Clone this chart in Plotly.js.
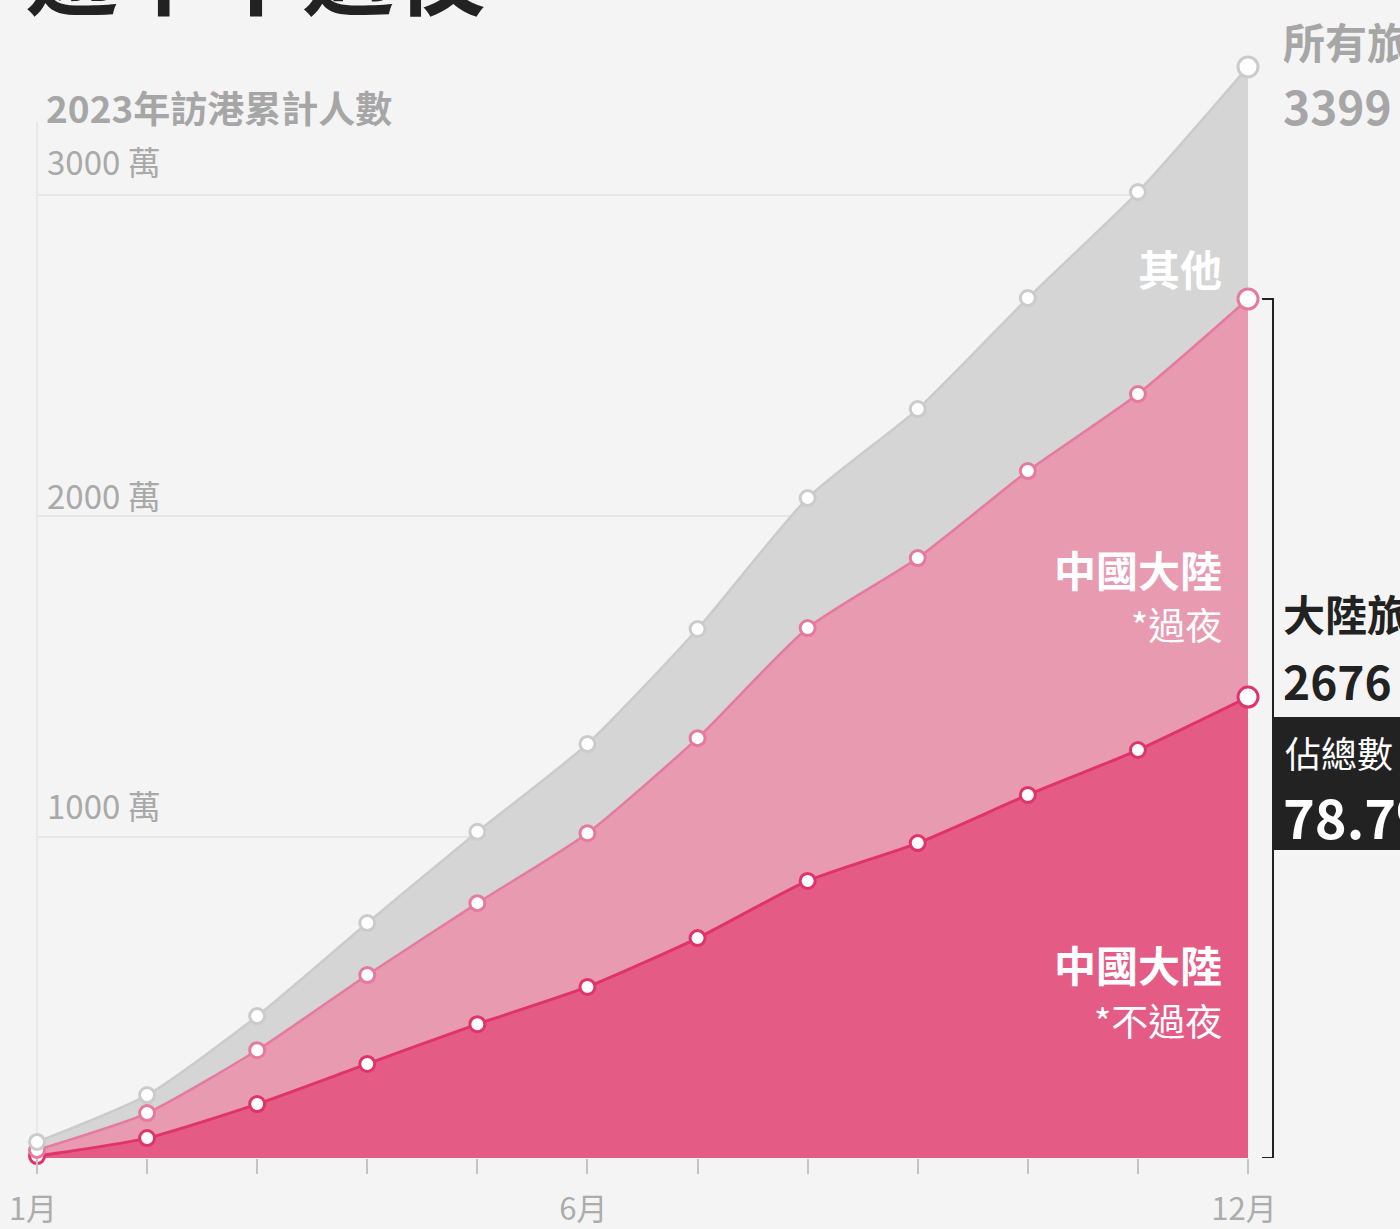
<!DOCTYPE html>
<html>
<head>
<meta charset="utf-8">
<script src="https://cdn.plot.ly/plotly-3.0.1.min.js"></script>
<style>
  html, body { margin: 0; padding: 0; background: #f4f4f4; }
  #chart { width: 1400px; height: 1229px; }
</style>
</head>
<body>
<div id="chart"></div>
<script>
// ---- Data (cumulative visitors, 萬) ----
const months = [1, 2, 3, 4, 5, 6, 7, 8, 9, 10, 11, 12];
const monthTickText = ['1月', '', '', '', '', '6月', '', '', '', '', '', '12月'];
const allVisitors = [50, 196, 442, 732, 1016, 1290, 1648, 2056, 2333, 2679, 3009, 3399];
const mainlandTotal = [25, 140, 336, 570, 794, 1012, 1308, 1651, 1869, 2140, 2380, 2676];
const mainlandSameDay = [6, 62, 168, 293, 417, 533, 685, 863, 981, 1131, 1271, 1436];
const yTickVals = [1000, 2000, 3000];
const yTickText = ['1000 萬', '2000 萬', '3000 萬'];

// ---- Layout geometry ----
const W = 1400, H = 1229, L = 37, R = 152, T = 60, B = 71;
const pw = W - L - R, ph = H - T - B;
const pxPerUnit = 0.321;
const yTop = ph / pxPerUnit;
function px(x) { return (x - L) / pw; }
function py(y) { return (H - B - y) / ph; }
const yLabelShift = [6, -5, 8];

const FONT = '"Noto Sans CJK TC", "Noto Sans", sans-serif';
const lastIdx = months.length - 1;

function markerSizes(n, small, big) { return months.map((m, i) => i === n ? big : small); }

const seriesStyles = [
  { y: mainlandSameDay, fill: 'tozeroy', fillcolor: '#e45c86', line: '#e0336a', lw: 3 },
  { y: mainlandTotal, fill: 'tonexty', fillcolor: '#e89ab1', line: '#e57a9e', lw: 2.5 },
  { y: allVisitors, fill: 'tonexty', fillcolor: '#d5d5d5', line: '#cbcbcb', lw: 2.5 }
];

const traces = seriesStyles.map(s => ({
  x: months, y: s.y, type: 'scatter', mode: 'lines',
  fill: s.fill, fillcolor: s.fillcolor,
  line: { color: s.line, width: s.lw, shape: 'spline', smoothing: 0.6 },
  hoverinfo: 'skip'
}));
// markers drawn as separate traces on top of all fills
seriesStyles.forEach(s => {
  traces.push({
    x: months, y: s.y, type: 'scatter', mode: 'markers',
    marker: { color: '#ffffff', opacity: 1, size: markerSizes(lastIdx, 15, 20), line: { color: s.line, width: 3 } },
    cliponaxis: false, hoverinfo: 'skip'
  });
});

const annotations = [];
// y tick labels
yTickVals.forEach((v, i) => {
  annotations.push({
    xref: 'paper', yref: 'y', x: px(45), y: v, xanchor: 'left', yanchor: 'bottom', yshift: yLabelShift[i],
    text: yTickText[i], showarrow: false,
    font: { family: FONT, size: 33, color: '#a9a9a9' }
  });
});
annotations.push(
  { xref: 'paper', yref: 'paper', x: px(44), y: py(107), xanchor: 'left', yanchor: 'middle',
    text: '<b>2023年訪港累計人數</b>', showarrow: false, font: { family: FONT, size: 37, color: '#a6a6a6' } },
  { xref: 'paper', yref: 'paper', x: px(24), y: py(36), xanchor: 'left', yanchor: 'bottom',
    text: '<b>逾半不過夜</b>', showarrow: false, font: { family: FONT, size: 92, color: '#222222' } },
  // in-chart labels
  { xref: 'paper', yref: 'paper', x: px(1224), y: py(268), xanchor: 'right', yanchor: 'middle',
    text: '<b>其他</b>', showarrow: false, font: { family: FONT, size: 42, color: '#ffffff' } },
  { xref: 'paper', yref: 'paper', x: px(1224), y: py(568), xanchor: 'right', yanchor: 'middle',
    text: '<b>中國大陸</b>', showarrow: false, font: { family: FONT, size: 42, color: '#ffffff' } },
  { xref: 'paper', yref: 'paper', x: px(1224), y: py(624), xanchor: 'right', yanchor: 'middle',
    text: '*過夜', showarrow: false, font: { family: FONT, size: 37, color: '#ffffff' } },
  { xref: 'paper', yref: 'paper', x: px(1224), y: py(963), xanchor: 'right', yanchor: 'middle',
    text: '<b>中國大陸</b>', showarrow: false, font: { family: FONT, size: 42, color: '#ffffff' } },
  { xref: 'paper', yref: 'paper', x: px(1224), y: py(1020), xanchor: 'right', yanchor: 'middle',
    text: '*不過夜', showarrow: false, font: { family: FONT, size: 37, color: '#ffffff' } },
  // right side labels
  { xref: 'paper', yref: 'paper', x: px(1281), y: py(40), xanchor: 'left', yanchor: 'middle',
    text: '<b>所有旅客</b>', showarrow: false, font: { family: FONT, size: 42, color: '#a6a6a6' } },
  { xref: 'paper', yref: 'paper', x: px(1281), y: py(105), xanchor: 'left', yanchor: 'middle',
    text: '<b>' + allVisitors[lastIdx] + ' 萬</b>', showarrow: false, font: { family: FONT, size: 46, color: '#a6a6a6' } },
  { xref: 'paper', yref: 'paper', x: px(1281), y: py(612), xanchor: 'left', yanchor: 'middle',
    text: '<b>大陸旅客</b>', showarrow: false, font: { family: FONT, size: 42, color: '#222222' } },
  { xref: 'paper', yref: 'paper', x: px(1281), y: py(680), xanchor: 'left', yanchor: 'middle',
    text: '<b>' + mainlandTotal[lastIdx] + ' 萬</b>', showarrow: false, font: { family: FONT, size: 46, color: '#222222' } },
  { xref: 'paper', yref: 'paper', x: px(1283), y: py(752), xanchor: 'left', yanchor: 'middle',
    text: '佔總數', showarrow: false, font: { family: FONT, size: 36, color: '#ffffff' } },
  { xref: 'paper', yref: 'paper', x: px(1281), y: py(815), xanchor: 'left', yanchor: 'middle',
    text: '<b>' + (mainlandTotal[lastIdx] / allVisitors[lastIdx] * 100).toFixed(1) + '%</b>', showarrow: false,
    font: { family: FONT, size: 54, color: '#ffffff' } }
);

const shapes = [
  // y axis line
  { type: 'line', xref: 'paper', yref: 'paper', x0: 0, x1: 0, y0: 0, y1: py(122),
    line: { color: '#e6e6e6', width: 1.5 }, layer: 'below' },
  // bracket
  { type: 'path', xref: 'paper', yref: 'y',
    path: 'M ' + px(1262) + ' ' + mainlandTotal[lastIdx] + ' L ' + px(1273) + ' ' + mainlandTotal[lastIdx] +
          ' L ' + px(1273) + ' 0 L ' + px(1262) + ' 0',
    line: { color: '#222222', width: 2 } },
  // dark box
  { type: 'rect', xref: 'paper', yref: 'paper', x0: px(1274), x1: px(1420), y0: py(850), y1: py(717),
    fillcolor: '#222222', line: { width: 0 } }
];

const layout = {
  width: W, height: H,
  margin: { l: L, r: R, t: T, b: B },
  paper_bgcolor: '#f4f4f4', plot_bgcolor: '#f4f4f4',
  showlegend: false,
  xaxis: {
    range: [1, 12], tickvals: months, ticktext: monthTickText,
    ticks: 'outside', ticklen: 15, tickwidth: 2, tickcolor: '#c4c4c4',
    showgrid: false, zeroline: false, showline: false,
    tickfont: { family: FONT, size: 31, color: '#acacac' }, ticklabelstandoff: 9, ticklabelshift: -4
  },
  yaxis: {
    range: [0, yTop], tickvals: yTickVals, showticklabels: false,
    showgrid: true, gridcolor: '#e6e6e6', gridwidth: 1.5, zeroline: false, showline: false
  },
  annotations: annotations,
  shapes: shapes
};

Plotly.newPlot('chart', traces, layout, { displayModeBar: false, staticPlot: true });
</script>
</body>
</html>
